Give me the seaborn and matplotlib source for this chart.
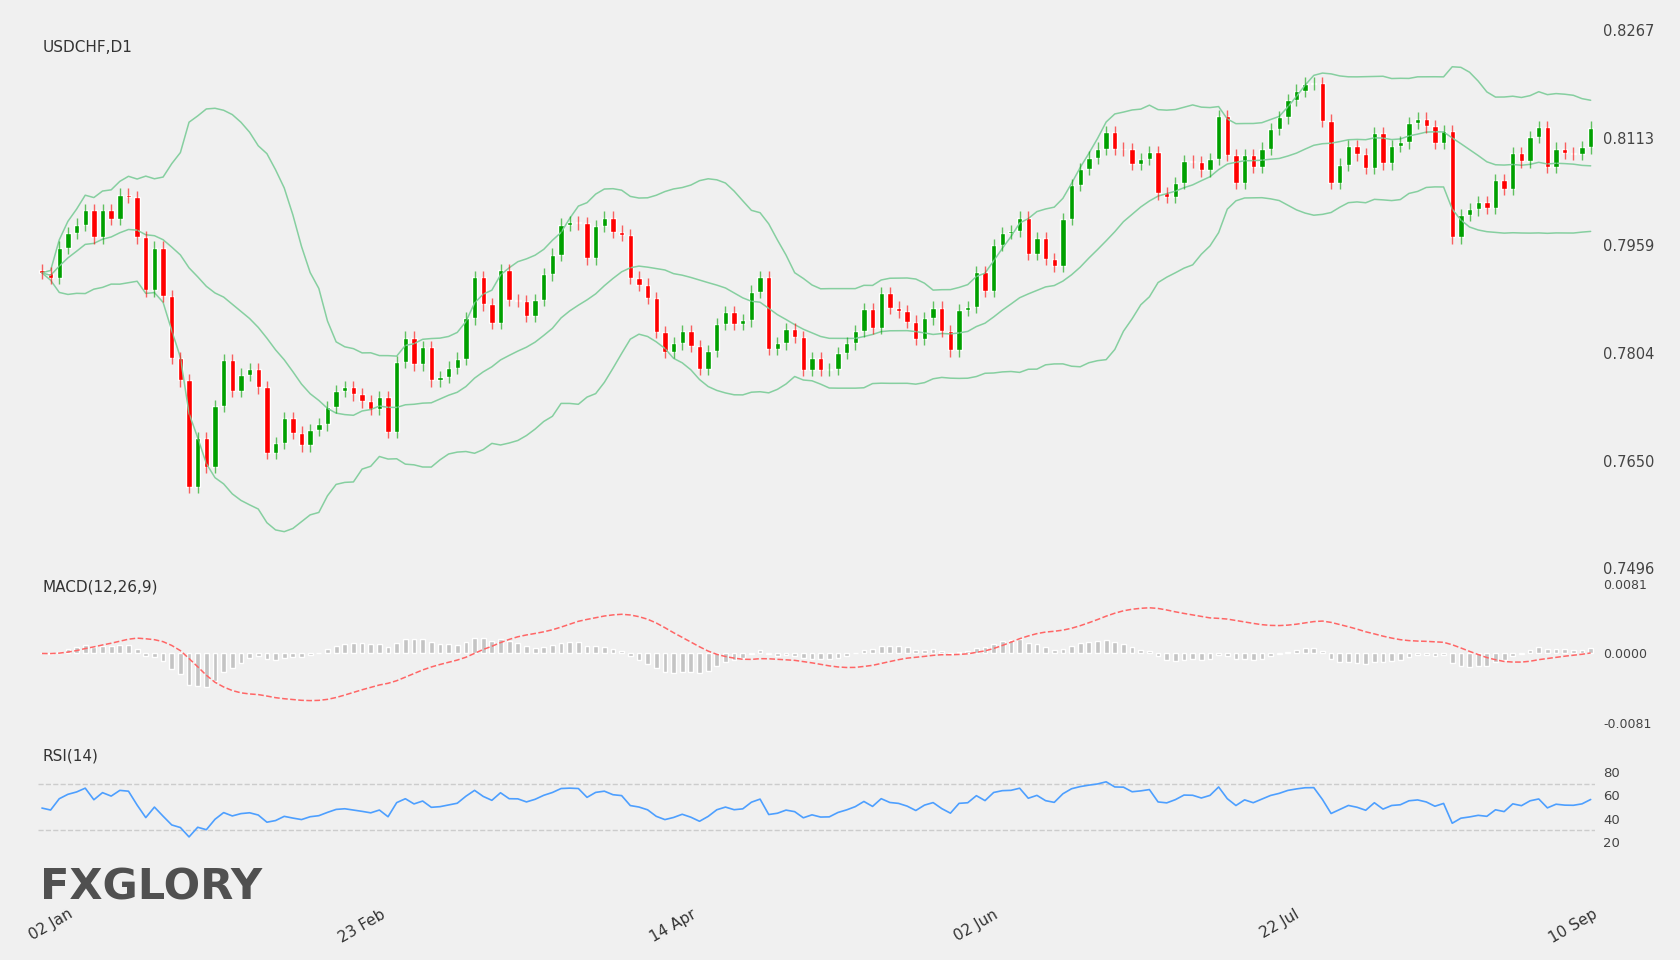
import numpy as np
import pandas as pd
import matplotlib
matplotlib.use("Agg")
import matplotlib.pyplot as plt
import seaborn as sns

# daily closes (open = previous close)
first_open = 0.7923
closes = [
    0.7919, 0.7912, 0.7955, 0.7976, 0.7988, 0.8009, 0.7970, 0.8009, 0.7996, 0.8031,
    0.8028, 0.7970, 0.7894, 0.7955, 0.7886, 0.7797, 0.7765, 0.7612, 0.7682, 0.7641,
    0.7728, 0.7794, 0.7750, 0.7773, 0.7781, 0.7755, 0.7661, 0.7675, 0.7711, 0.7690,
    0.7672, 0.7694, 0.7702, 0.7727, 0.7750, 0.7755, 0.7745, 0.7735, 0.7724, 0.7741,
    0.7691, 0.7791, 0.7826, 0.7788, 0.7813, 0.7765, 0.7770, 0.7783, 0.7796, 0.7854,
    0.7913, 0.7874, 0.7847, 0.7923, 0.7880, 0.7879, 0.7857, 0.7880, 0.7917, 0.7945,
    0.7988, 0.7992, 0.7990, 0.7940, 0.7986, 0.7998, 0.7978, 0.7973, 0.7912, 0.7902,
    0.7883, 0.7834, 0.7806, 0.7818, 0.7836, 0.7814, 0.7781, 0.7807, 0.7846, 0.7863,
    0.7846, 0.7851, 0.7892, 0.7913, 0.7810, 0.7818, 0.7838, 0.7827, 0.7780, 0.7797,
    0.7780, 0.7781, 0.7804, 0.7818, 0.7836, 0.7867, 0.7840, 0.7890, 0.7869, 0.7864,
    0.7849, 0.7824, 0.7854, 0.7869, 0.7836, 0.7808, 0.7866, 0.7870, 0.7920, 0.7893,
    0.7959, 0.7976, 0.7979, 0.7998, 0.7946, 0.7969, 0.7939, 0.7929, 0.7996, 0.8045,
    0.8068, 0.8084, 0.8097, 0.8121, 0.8097, 0.8096, 0.8075, 0.8082, 0.8092, 0.8033,
    0.8028, 0.8048, 0.8079, 0.8078, 0.8066, 0.8082, 0.8144, 0.8088, 0.8048, 0.8088,
    0.8071, 0.8097, 0.8125, 0.8142, 0.8167, 0.8180, 0.8190, 0.8191, 0.8137, 0.8048,
    0.8074, 0.8101, 0.8089, 0.8069, 0.8119, 0.8076, 0.8101, 0.8106, 0.8134, 0.8140,
    0.8129, 0.8105, 0.8122, 0.7970, 0.8002, 0.8010, 0.8020, 0.8012, 0.8052, 0.8039,
    0.8091, 0.8079, 0.8114, 0.8128, 0.8071, 0.8097, 0.8091, 0.8090, 0.8099, 0.8127,
]
tick_idx = [1, 37, 73, 108, 143, 177]
tick_lbl = ["02 Jan", "23 Feb", "14 Apr", "02 Jun", "22 Jul", "10 Sep"]
price_ticks = [0.7496, 0.7650, 0.7804, 0.7959, 0.8113, 0.8267]
macd_ticks = [-0.0081, 0.0, 0.0081]
rsi_ticks = [20, 40, 60, 80]

c = pd.Series(closes)
o = c.shift(1).fillna(first_open)
hi = np.maximum(o, c) + 0.0009
lo = np.minimum(o, c) - 0.0009
x = np.arange(len(c))

mid = c.rolling(20, min_periods=1).mean()
sd = c.rolling(20, min_periods=1).std(ddof=0)
up, dn = mid + 2 * sd, mid - 2 * sd

macd = c.ewm(span=12, adjust=False).mean() - c.ewm(span=26, adjust=False).mean()
sig = macd.ewm(span=9, adjust=False).mean()
hist = macd - sig

# wilder RSI with a neutral warm-up
d = (c - o).values
ag, al = 0.0008, 0.0008
rsi = []
for v in d:
    ag = (ag * 13 + max(v, 0)) / 14
    al = (al * 13 + max(-v, 0)) / 14
    rsi.append(100 - 100 / (1 + ag / al))
rsi = np.array(rsi)

sns.set_theme(style="white")
plt.rcParams['font.family'] = ['DejaVu Sans']
BG = "#f0f0f0"
fig = plt.figure(figsize=(16.8, 9.6), dpi=100, facecolor=BG)
L, W = 0.0224, 0.927
ax1 = fig.add_axes([L, 0.4083, W, 0.5604])
ax2 = fig.add_axes([L, 0.2469, W, 0.1448])
ax3 = fig.add_axes([L, 0.099, W, 0.1208])

bcol = "#86cfa0"
for s in (up, mid, dn):
    sns.lineplot(x=x, y=s.values, ax=ax1, color=bcol, lw=1.1)
col = np.where(c >= o, "#00a000", "#ff0000")
ax1.vlines(x, lo, hi, colors=col, lw=1, alpha=0.6)
ax1.bar(x, (c - o).abs().clip(lower=0.00012), bottom=np.minimum(o, c), width=0.62, color=col)
ax1.set_ylim(0.7496, 0.8267)
ax1.set_yticks(price_ticks)
ax1.set_yticklabels([f"{v:.4f}" for v in price_ticks])
ax1.text(0.003, 0.982, "USDCHF,D1", transform=ax1.transAxes, fontsize=11, color="#333", va="top")

ax2.bar(x, hist, width=0.55, color="#c4c4c4")
sns.lineplot(x=x, y=sig.values, ax=ax2, color="#ff6666", lw=1.1, linestyle="--")
ax2.set_ylim(-0.0081, 0.0081)
ax2.set_yticks(macd_ticks)
ax2.set_yticklabels([f"{v:.4f}" for v in macd_ticks])
ax2.text(0.003, 1.03, "MACD(12,26,9)", transform=ax2.transAxes, fontsize=11, color="#333", va="top")

ax3.axhline(70, color="#cccccc", lw=1, ls="--")
ax3.axhline(30, color="#cccccc", lw=1, ls="--")
sns.lineplot(x=x, y=rsi, ax=ax3, color="#4d9fff", lw=1.2)
ax3.set_ylim(0, 100)
ax3.set_yticks(rsi_ticks)
ax3.text(0.003, 1.0, "RSI(14)", transform=ax3.transAxes, fontsize=11, color="#333", va="top")

for ax in (ax1, ax2, ax3):
    ax.set_facecolor(BG)
    ax.set_xlim(-0.5, len(c) - 0.5)
    for sp in ax.spines.values():
        sp.set_visible(False)
    ax.yaxis.tick_right()
    ax.tick_params(axis="y", length=0, pad=6, labelcolor="#444")
    ax.set_xticks([])
    ax.set_ylabel("")
ax1.tick_params(axis="y", labelsize=10.5)
ax2.tick_params(axis="y", labelsize=9)
ax3.tick_params(axis="y", labelsize=9.5)

ax3.set_xticks(tick_idx)
ax3.set_xticklabels(tick_lbl, rotation=30, fontsize=11, color="#333")
ax3.tick_params(axis="x", length=0, pad=30)

fig.text(0.024, 0.075, "FXGLORY", fontsize=31, fontweight="bold", color="#505050", va="center")

fig.savefig("out.png", dpi=100, facecolor=BG)
